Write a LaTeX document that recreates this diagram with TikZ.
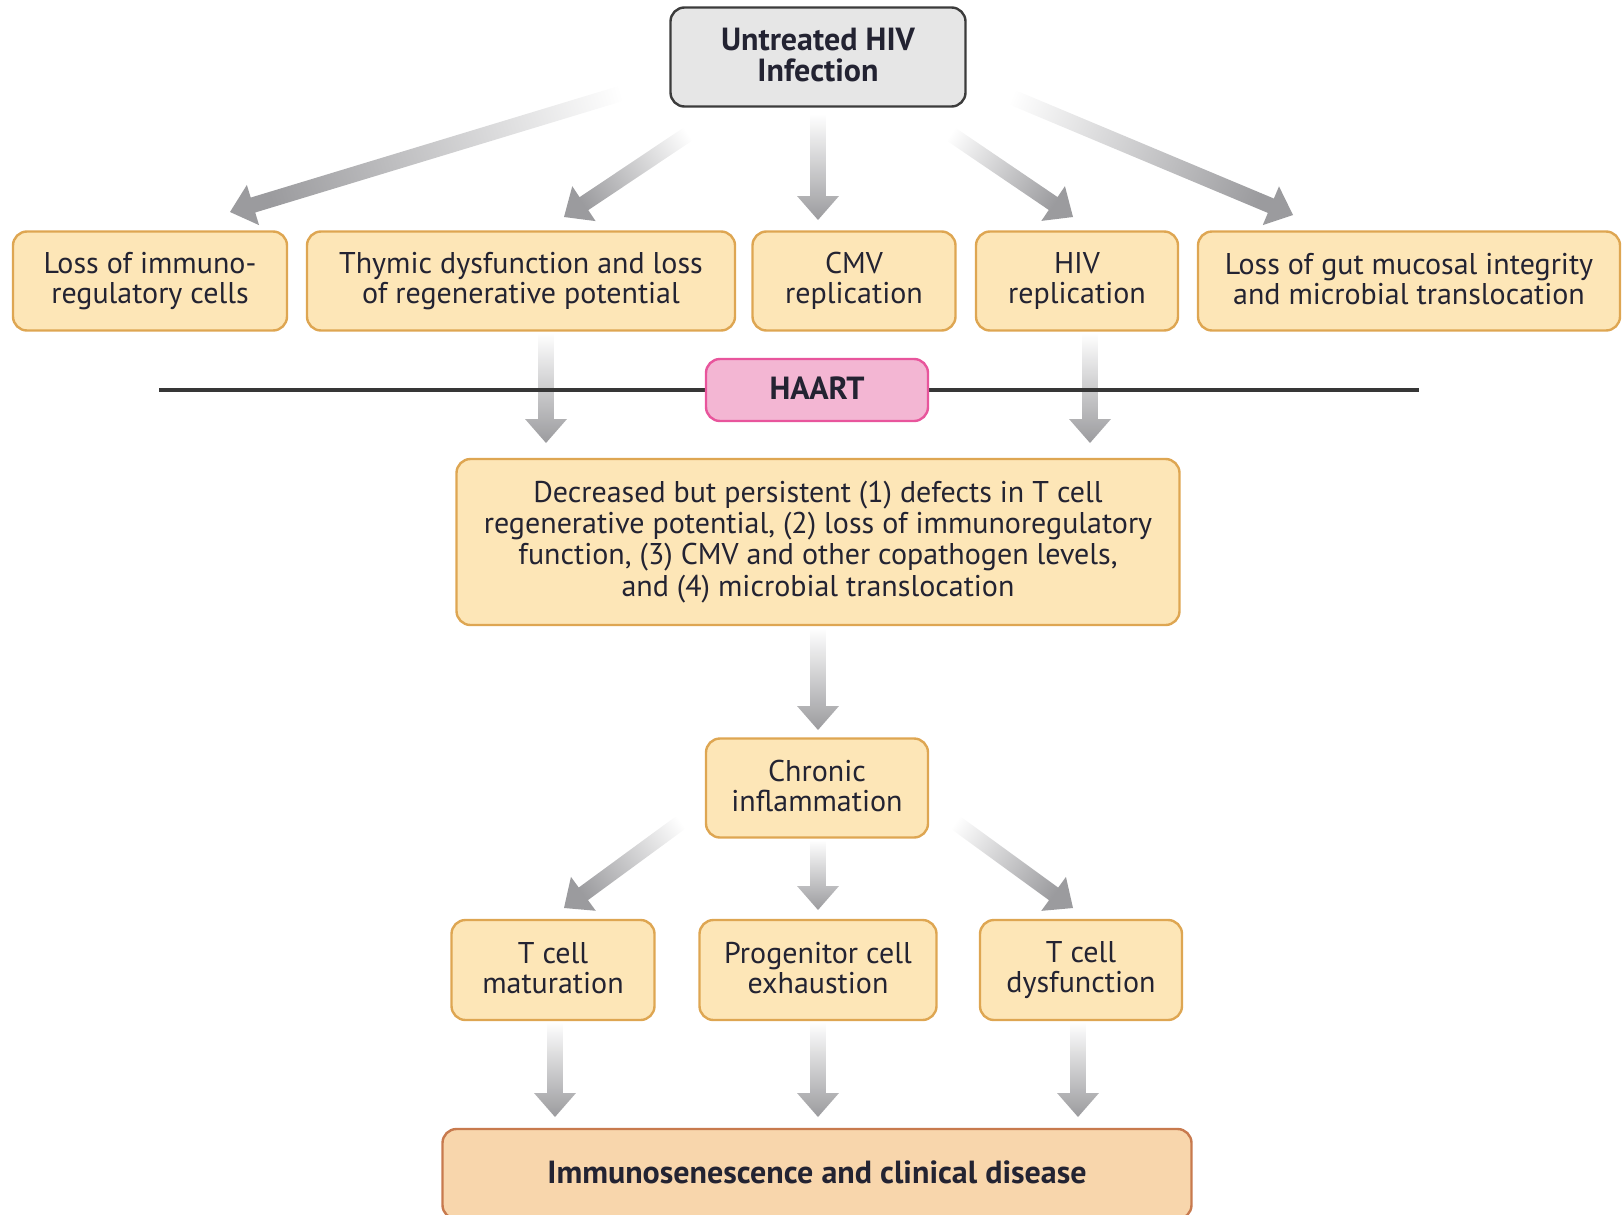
\documentclass[tikz,border=0pt]{standalone}
\usepackage{fontspec}
\setmainfont{PT Sans}
\usetikzlibrary{calc}
\definecolor{boxfill}{RGB}{253,230,183}
\definecolor{boxline}{RGB}{222,166,82}
\definecolor{topfill}{RGB}{230,230,230}
\definecolor{topline}{RGB}{60,60,60}
\definecolor{pinkfill}{RGB}{243,182,211}
\definecolor{pinkline}{RGB}{232,85,156}
\definecolor{peachfill}{RGB}{248,214,172}
\definecolor{peachline}{RGB}{200,122,78}
\definecolor{txt}{RGB}{35,35,50}
\definecolor{arrowgray}{RGB}{155,155,158}
\newcommand\mystrut{\rule[-2pt]{0pt}{11pt}}
\newcommand\fatarrow[2]{%
  \path let \p1=(#1), \p2=(#2), \n1={atan2(\y2-\y1,\x2-\x1)+90} in \pgfextra{\xdef\faang{\n1}};
  \shade[top color=white, bottom color=arrowgray, shading angle=\faang]
    ($(#1)!3.9pt!90:(#2)$) --
    ($(#2)!12pt!(#1)!3.9pt!-90:(#1)$) --
    ($(#2)!12pt!(#1)!10.5pt!-90:(#1)$) --
    (#2) --
    ($(#2)!12pt!(#1)!10.5pt!90:(#1)$) --
    ($(#2)!12pt!(#1)!3.9pt!90:(#1)$) --
    ($(#1)!3.9pt!-90:(#2)$) -- cycle;
}
\tikzset{
  box/.style={draw=boxline, fill=boxfill, line width=1.2pt, rounded corners=7pt,
    align=center, inner sep=0pt, minimum height=49.5pt, text=txt,
    font=\fontsize{15}{15.2}\selectfont,
    execute at begin node={\mystrut}, execute at end node={\mystrut}},
  topbox/.style={box, draw=topline, fill=topfill, font=\fontsize{16}{15.5}\selectfont\bfseries},
  haartbox/.style={box, draw=pinkline, fill=pinkfill, minimum height=31pt, font=\fontsize{16}{15.5}\selectfont\bfseries},
  endbox/.style={box, draw=peachline, fill=peachfill, font=\fontsize{16}{15.5}\selectfont\bfseries},
  barline/.style={draw=topline!90!black, line width=1.7pt},
}
\begin{document}
\begin{tikzpicture}[x=0.5pt,y=-0.5pt]
\useasboundingbox (0,0) rectangle (1622,1215);
% nodes
\node[topbox, minimum width=147.5pt] (top) at (818,57) {Untreated HIV\\Infection};
\node[box, minimum width=137pt] (b1) at (150,281) {Loss of immuno-\\regulatory cells};
\node[box, minimum width=214pt] (b2) at (521,281) {Thymic dysfunction and loss\\of regenerative potential};
\node[box, minimum width=101.5pt] (b3) at (854,281) {CMV\\replication};
\node[box, minimum width=101pt] (b4) at (1077,281) {HIV\\replication};
\node[box, minimum width=211pt] (b5) at (1409,281) {Loss of gut mucosal integrity\\and microbial translocation};
\node[box, minimum width=361.5pt, minimum height=83pt, font=\fontsize{15}{15.6}\selectfont] (mid) at (818,542)
  {Decreased but persistent (1) defects in T cell\\regenerative potential, (2) loss of immunoregulatory\\function, (3) CMV and other copathogen levels,\\and (4) microbial translocation};
\node[box, minimum width=111pt] (chr) at (817,788) {Chronic\\inflammation};
\node[box, minimum width=101.5pt, minimum height=50pt] (t1) at (553,970) {T cell\\maturation};
\node[box, minimum width=118.5pt, minimum height=50pt] (t2) at (818,970) {Progenitor cell\\exhaustion};
\node[box, minimum width=101pt, minimum height=50pt] (t3) at (1081,970) {T cell\\dysfunction};
\node[endbox, minimum width=374.5pt, minimum height=45pt] (end) at (817,1174) {Immunosenescence and clinical disease};
% arrow end points
\coordinate (s1) at (662,81);   \coordinate (e1) at (230,212);
\coordinate (s2) at (703,124);  \coordinate (e2) at (564,217);
\coordinate (s3) at (818,114);  \coordinate (e3) at (818,220);
\coordinate (s4) at (936,124);  \coordinate (e4) at (1073,217);
\coordinate (s5) at (978,83);   \coordinate (e5) at (1293,215);
\coordinate (s6) at (546,333);  \coordinate (e6) at (546,443);
\coordinate (s7) at (1090,333); \coordinate (e7) at (1090,443);
\coordinate (s8) at (818,628);  \coordinate (e8) at (818,730);
\coordinate (s9) at (695,812);  \coordinate (e9) at (564,908);
\coordinate (s10) at (818,840); \coordinate (e10) at (818,910);
\coordinate (s11) at (941,812); \coordinate (e11) at (1073,908);
\coordinate (s12) at (555,1022); \coordinate (e12) at (555,1117);
\coordinate (s13) at (818,1022); \coordinate (e13) at (818,1117);
\coordinate (s14) at (1078,1022); \coordinate (e14) at (1078,1117);
\foreach \i in {1,...,14} {\fatarrow{s\i}{e\i}}
% HAART bar
\coordinate (lineL) at (159,390);
\coordinate (lineR) at (1419,390);
\draw[barline] (lineL) -- (lineR);
\node[haartbox, minimum width=111pt] (haart) at (817,390) {HAART};
\end{tikzpicture}
\end{document}
